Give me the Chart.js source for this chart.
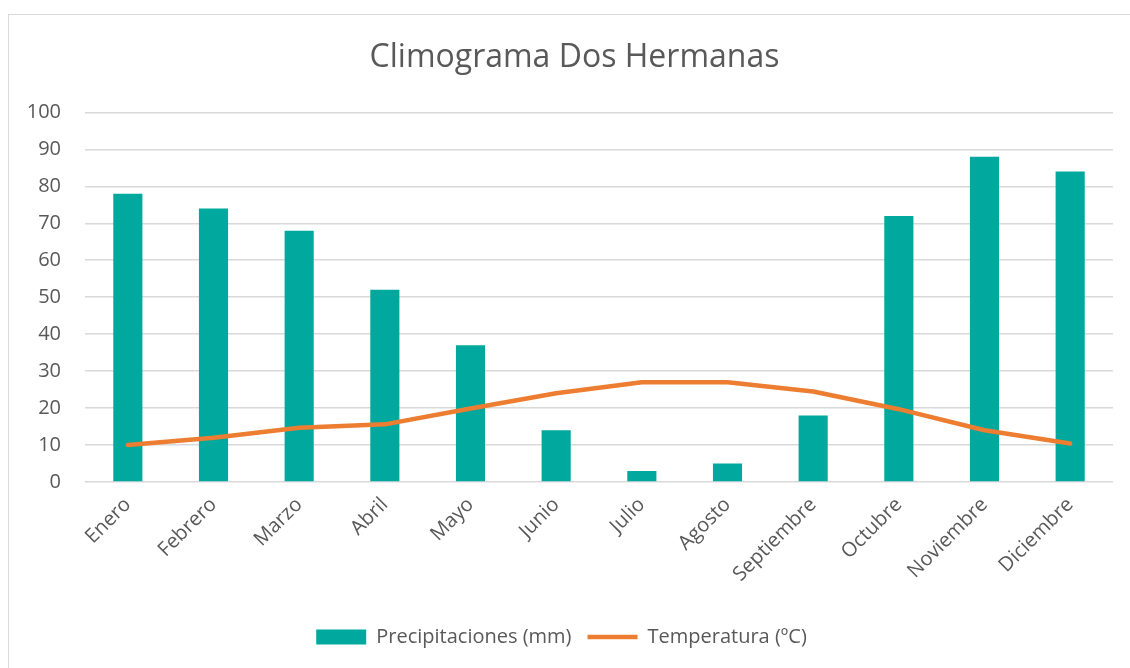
<!DOCTYPE html>
<html>
<head>
<meta charset="utf-8">
<script src="https://cdn.jsdelivr.net/npm/chart.js@4/dist/chart.umd.min.js"></script>
<style>
  html, body { margin: 0; padding: 0; background: #fff; overflow: hidden; }
  #marco { position: absolute; left: 8px; top: 14px; width: 1200px; height: 700px; border: 1.5px solid #d9d9d9; }
  #wrap { position: absolute; left: 0; top: 0; width: 1130px; height: 668px; }
</style>
</head>
<body>
<div id="marco"></div>
<div id="wrap"><canvas id="climograma"></canvas></div>
<script>
// datos del climograma
const meses = ['Enero', 'Febrero', 'Marzo', 'Abril', 'Mayo', 'Junio', 'Julio', 'Agosto', 'Septiembre', 'Octubre', 'Noviembre', 'Diciembre'];
const precipitaciones = [78, 74, 68, 52, 37, 14, 3, 5, 18, 72, 88, 84];
const temperaturas = [10, 12, 14.7, 15.6, 19.9, 24, 27, 27, 24.5, 19.7, 14, 10.4];
const ejeY = { min: 0, max: 100, paso: 10 };

const gris = '#595959';
const fuente = '"Open Sans", Lato, sans-serif';

// el título del original está algo desplazado a la derecha
const moverTitulo = {
    id: 'moverTitulo',
    afterLayout(chart) {
        if (chart.titleBlock) chart.titleBlock.left += 26;
    }
};

const ctx = document.getElementById('climograma').getContext('2d');

new Chart(ctx, {
    type: 'bar',
    data: {
        labels: meses,
        datasets: [
            {
                type: 'bar',
                label: 'Precipitaciones (mm)',
                data: precipitaciones,
                backgroundColor: '#00a89d',
                borderWidth: 0,
                barPercentage: 0.34,
                categoryPercentage: 1,
                pointStyle: 'rect',
                order: 2
            },
            {
                type: 'line',
                label: 'Temperatura (ºC)',
                data: temperaturas,
                borderColor: '#ed7d31',
                backgroundColor: '#ed7d31',
                borderWidth: 4.5,
                borderCapStyle: 'round',
                borderJoinStyle: 'round',
                pointRadius: 0,
                pointHoverRadius: 0,
                pointStyle: 'line',
                tension: 0,
                order: 1
            }
        ]
    },
    options: {
        responsive: true,
        maintainAspectRatio: false,
        animation: false,
        layout: { padding: { top: 20, left: 10, right: 17, bottom: 11 } },
        scales: {
            x: {
                grid: { display: false },
                border: { display: false },
                ticks: {
                    color: gris,
                    font: { family: fuente, size: 20 },
                    autoSkip: false,
                    minRotation: 45,
                    maxRotation: 45
                },
                afterFit: (scale) => { scale.height = 129; }
            },
            y: {
                min: ejeY.min,
                max: ejeY.max,
                ticks: {
                    stepSize: ejeY.paso,
                    color: gris,
                    font: { family: fuente, size: 20 },
                    padding: 24
                },
                grid: { color: '#d9d9d9', lineWidth: 1.5, drawTicks: false },
                border: { display: false },
                afterFit: (scale) => { scale.width = 75; }
            }
        },
        plugins: {
            title: {
                display: true,
                text: 'Climograma Dos Hermanas',
                color: gris,
                font: { family: fuente, size: 32, weight: 'normal' },
                padding: { top: 19, bottom: 35 }
            },
            legend: {
                position: 'bottom',
                labels: {
                    color: gris,
                    font: { family: fuente, size: 20 },
                    usePointStyle: true,
                    pointStyleWidth: 50,
                    boxHeight: 15,
                    padding: 16,
                    sort: (a, b) => a.datasetIndex - b.datasetIndex
                }
            },
            tooltip: { enabled: false }
        }
    },
    plugins: [moverTitulo]
});
</script>
</body>
</html>
